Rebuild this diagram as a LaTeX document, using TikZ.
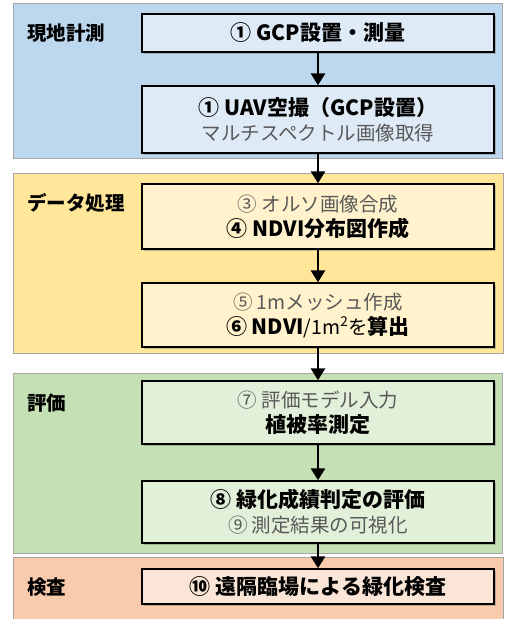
\documentclass[tikz,border=0pt]{standalone}
\usepackage{fontspec}
\setmainfont{Noto Sans CJK JP}
\usetikzlibrary{arrows.meta,shadows}
\definecolor{bandblue}{HTML}{BDD7EE}
\definecolor{boxblue}{HTML}{DEEBF7}
\definecolor{bandyellow}{HTML}{FFE699}
\definecolor{boxyellow}{HTML}{FFF2CC}
\definecolor{bandgreen}{HTML}{C5E0B4}
\definecolor{boxgreen}{HTML}{E2F0D9}
\definecolor{bandorange}{HTML}{F8CBAD}
\definecolor{boxorange}{HTML}{FBE5D6}
\definecolor{subtext}{HTML}{595959}
\definecolor{bandline}{HTML}{A6A6A6}
\tikzset{
  band/.style={draw=bandline, line width=0.8pt},
  stepbox/.style={draw=black, line width=1.4pt, minimum width=352pt, inner sep=0pt,
    align=center, font=\fontsize{19.5}{25}\selectfont,
    drop shadow={shadow xshift=1.5pt, shadow yshift=-1.5pt, opacity=0.35, fill=black!60}},
  grouplabel/.style={anchor=west, font=\fontsize{19.5}{22}\selectfont\bfseries, inner sep=0pt},
  flow/.style={line width=2.8pt, -{Triangle[width=14pt,length=12pt]}},
  big/.style={font=\fontsize{20.5}{25}\selectfont}
}
\newcommand{\bigb}[1]{{\fontsize{21}{25}\selectfont\bfseries #1}}
\begin{document}
\begin{tikzpicture}[x=1pt,y=-1pt]
\useasboundingbox (0,0) rectangle (504,619);
% bands
\fill[white] (0,0) rectangle (504,619);
\draw[band, fill=bandblue] (13,3) rectangle (502,158);
\draw[band, fill=bandyellow] (13,173) rectangle (503,353);
\draw[band, fill=bandgreen] (13,373) rectangle (502,553);
\draw[band, fill=bandorange] (13,557) rectangle (503,620);
% labels
\node[grouplabel] (l1) at (27,33) {現地計測};
\node[grouplabel] (l2) at (27,203) {データ処理};
\node[grouplabel] (l3) at (27,403) {評価};
\node[grouplabel] (l4) at (27,587) {検査};
% boxes
\node[stepbox, fill=boxblue, minimum height=38pt] (b1) at (318,33) {\bigb{① GCP設置・測量}};
\node[stepbox, fill=boxblue, minimum height=67pt] (b2) at (318,119.5) {\bigb{① UAV空撮（GCP設置）}\\ {\color{subtext}マルチスペクトル画像取得}};
\node[stepbox, fill=boxyellow, minimum height=65pt] (b3) at (318,216.5) {{\color{subtext}③ オルソ画像合成}\\ \bigb{④ NDVI分布図作成}};
\node[stepbox, fill=boxyellow, minimum height=64pt] (b4) at (318,315) {{\color{subtext}⑤ 1mメッシュ作成}\\ \bigb{⑥ NDVI}/1m\textsuperscript{2}を\bigb{算出}};
\node[stepbox, fill=boxgreen, minimum height=63pt] (b5) at (318,412.5) {{\color{subtext}⑦ 評価モデル入力}\\ \bigb{植被率測定}};
\node[stepbox, fill=boxgreen, minimum height=62pt] (b6) at (318,512) {\bigb{⑧ 緑化成績判定の評価}\\ {\color{subtext}⑨ 測定結果の可視化}};
\node[stepbox, fill=boxorange, minimum height=35pt] (b7) at (318,586.5) {\bigb{⑩ 遠隔臨場による緑化検査}};
% arrows
\draw[flow] (b1) -- (b2);
\draw[flow] (b2) -- (b3);
\draw[flow] (b3) -- (b4);
\draw[flow] (b4) -- (b5);
\draw[flow] (b5) -- (b6);
\draw[flow] (b6) -- (b7);
\end{tikzpicture}
\end{document}
